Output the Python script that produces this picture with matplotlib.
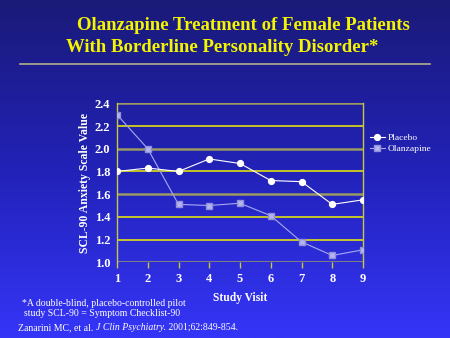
import numpy as np
import matplotlib
matplotlib.use("Agg")
import matplotlib.pyplot as plt
from matplotlib.colors import LinearSegmentedColormap

visits = [1, 2, 3, 4, 5, 6, 7, 8, 9]
placebo = [1.80, 1.83, 1.80, 1.91, 1.87, 1.72, 1.71, 1.51, 1.55]
olanzapine = [2.30, 2.00, 1.51, 1.50, 1.52, 1.41, 1.18, 1.06, 1.11]
y_ticks = [1.0, 1.2, 1.4, 1.6, 1.8, 2.0, 2.2, 2.4]

serif = ["Liberation Serif", "DejaVu Serif"]
W, H = 450, 338
fig = plt.figure(figsize=(W / 100, H / 100), dpi=100)

# slide background: dark navy at the top fading to bright blue
bg = fig.add_axes([0, 0, 1, 1], zorder=-10)
cmap = LinearSegmentedColormap.from_list("slide", ["#1a1a78", "#2222b8", "#3535f8"])
grad = np.linspace(0, 1, 256).reshape(-1, 1)
bg.imshow(grad, aspect="auto", cmap=cmap, extent=[0, 1, 0, 1], origin="upper")
bg.set_axis_off()

# title and rule
fig.text(77 / W, 1 - 25 / H, "Olanzapine Treatment of Female Patients", color="#f5f500",
         fontsize=13.5, fontweight="bold", family=serif, ha="left", va="center")
fig.text(66 / W, 1 - 47 / H, "With Borderline Personality Disorder*", color="#f5f500",
         fontsize=13.5, fontweight="bold", family=serif, ha="left", va="center")
bg.plot([20 / W, 430 / W], [1 - 63.5 / H, 1 - 63.5 / H], color="#b0b088", lw=1.2)
bg.set_xlim(0, 1)
bg.set_ylim(0, 1)

ax = fig.add_axes([117 / W, 1 - 262.3 / H, 246 / W, 159 / H])
ax.set_facecolor("none")
ax.set_xlim(1, 9)
ax.set_ylim(1.0, 2.4)

# horizontal grid: heavier olive lines alternate with thin yellow ones
for v in y_ticks:
    if round(v * 10) in (10, 16, 20, 24):
        ax.axhline(v, color="#9a9a62", lw=1.8, zorder=1)
    else:
        ax.axhline(v, color="#f0f000", lw=1.1, zorder=1)

for s in ["top", "bottom"]:
    ax.spines[s].set_visible(False)
for s in ["left", "right"]:
    ax.spines[s].set_color("#c8c840")
    ax.spines[s].set_linewidth(1.0)

ax.plot(visits, placebo, color="white", lw=0.8, marker="o", markersize=4.2,
        markerfacecolor="white", markeredgecolor="white", label="Placebo", zorder=4)
ax.plot(visits, olanzapine, color="#a8a8f4", lw=0.8, marker="s", markersize=4,
        markerfacecolor="#b4b4f0", markeredgecolor="#9090d8", label="Olanzapine", zorder=3)

ax.set_xticks(visits)
ax.set_yticks(y_ticks)
ax.set_yticklabels([f"{v:.1f}" for v in y_ticks])
ax.tick_params(axis="x", colors="#c8c840", length=4, width=1, direction="out", pad=4,
               labelcolor="white")
ax.tick_params(axis="y", length=0, pad=5, labelcolor="white")
for lbl in ax.get_xticklabels() + ax.get_yticklabels():
    lbl.set_family(serif)
    lbl.set_fontweight("bold")
    lbl.set_fontsize(9)

ax.set_ylabel("SCL-90 Anxiety Scale Value", color="white", fontsize=8.5,
              fontweight="bold", family=serif)
ax.yaxis.set_label_coords(-0.104, 0.5)
ax.set_xlabel("Study Visit", color="white", fontsize=8.3, fontweight="bold",
              family=serif, labelpad=5)

leg = ax.legend(loc="upper left", bbox_to_anchor=(1.0, 0.85), frameon=False,
                prop={"family": serif, "size": 6.8}, handlelength=1.6,
                handletextpad=0.3, labelspacing=0.25, borderaxespad=0.3)
for t in leg.get_texts():
    t.set_color("white")

# footnotes
fs = 7.0
fig.text(22 / W, 1 - 303 / H, "*A double-blind, placebo-controlled pilot", color="white",
         fontsize=fs, family=serif, ha="left", va="center")
fig.text(24 / W, 1 - 314 / H, "study SCL-90 = Symptom Checklist-90", color="white",
         fontsize=fs, family=serif, ha="left", va="center")
t1 = fig.text(18 / W, 1 - 330 / H, "Zanarini MC, et al. ", color="white",
              fontsize=fs, family=serif, ha="left", va="baseline")
t2 = fig.text(0, 0, "J Clin Psychiatry.", color="white", fontsize=fs, family=serif,
              style="italic", ha="left", va="baseline")
t3 = fig.text(0, 0, " 2001;62:849-854.", color="white", fontsize=fs, family=serif,
              ha="left", va="baseline")
fig.canvas.draw()
r = fig.canvas.get_renderer()
inv = fig.transFigure.inverted()
x1 = inv.transform(t1.get_window_extent(r))[1][0]
t2.set_position((x1, 1 - 330 / H))
fig.canvas.draw()
x2 = inv.transform(t2.get_window_extent(r))[1][0]
t3.set_position((x2, 1 - 330 / H))

fig.savefig("out.png", dpi=100)
